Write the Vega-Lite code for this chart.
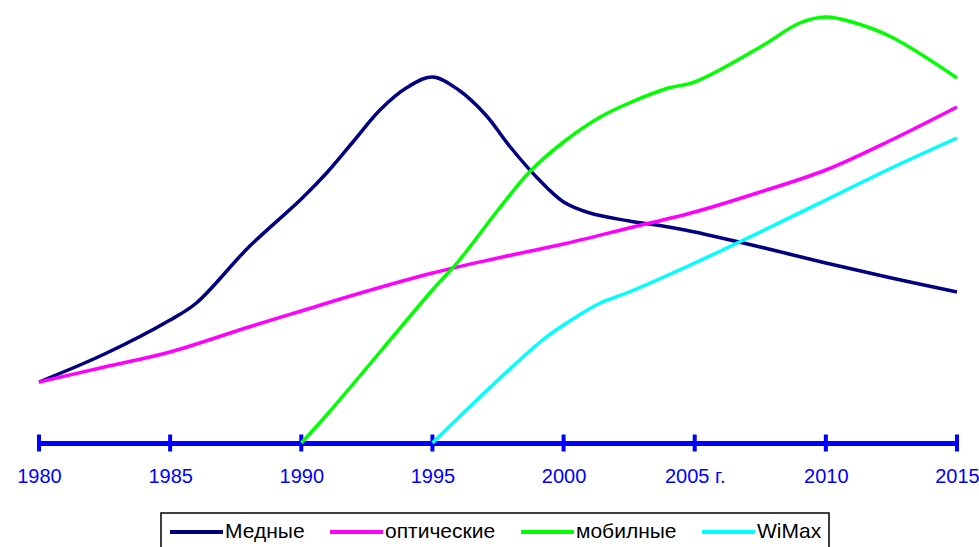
{
  "$schema": "https://vega.github.io/schema/vega-lite/v6.json",
  "width": 918,
  "height": 443,
  "autosize": {"type": "none"},
  "padding": {"left": 39, "top": 0, "right": 22, "bottom": 104},
  "background": "#ffffff",
  "config": {
    "view": {"stroke": null},
    "font": "Liberation Sans"
  },
  "datasets": {
    "series": [
      {"year": 1980, "value": 61, "series": "Медные"},
      {"year": 1982.5, "value": 89, "series": "Медные"},
      {"year": 1985, "value": 123, "series": "Медные"},
      {"year": 1986, "value": 140, "series": "Медные"},
      {"year": 1988, "value": 196, "series": "Медные"},
      {"year": 1990, "value": 244, "series": "Медные"},
      {"year": 1991, "value": 271, "series": "Медные"},
      {"year": 1992, "value": 302, "series": "Медные"},
      {"year": 1993, "value": 333, "series": "Медные"},
      {"year": 1994, "value": 355, "series": "Медные"},
      {"year": 1995, "value": 366, "series": "Медные"},
      {"year": 1996, "value": 353, "series": "Медные"},
      {"year": 1997, "value": 329, "series": "Медные"},
      {"year": 1998, "value": 295, "series": "Медные"},
      {"year": 1999, "value": 265, "series": "Медные"},
      {"year": 2000, "value": 241, "series": "Медные"},
      {"year": 2001, "value": 230, "series": "Медные"},
      {"year": 2002.5, "value": 222, "series": "Медные"},
      {"year": 2004, "value": 216, "series": "Медные"},
      {"year": 2005, "value": 211, "series": "Медные"},
      {"year": 2007.5, "value": 196, "series": "Медные"},
      {"year": 2010, "value": 180, "series": "Медные"},
      {"year": 2012.5, "value": 165, "series": "Медные"},
      {"year": 2015, "value": 151, "series": "Медные"},

      {"year": 1980, "value": 61, "series": "оптические"},
      {"year": 1982.5, "value": 76, "series": "оптические"},
      {"year": 1985, "value": 91, "series": "оптические"},
      {"year": 1988, "value": 116, "series": "оптические"},
      {"year": 1990, "value": 132, "series": "оптические"},
      {"year": 1992, "value": 148, "series": "оптические"},
      {"year": 1995, "value": 170, "series": "оптические"},
      {"year": 1997.5, "value": 185, "series": "оптические"},
      {"year": 2000, "value": 199, "series": "оптические"},
      {"year": 2002.5, "value": 215, "series": "оптические"},
      {"year": 2005, "value": 231, "series": "оптические"},
      {"year": 2007.5, "value": 251, "series": "оптические"},
      {"year": 2010, "value": 273, "series": "оптические"},
      {"year": 2012.5, "value": 303, "series": "оптические"},
      {"year": 2015, "value": 336, "series": "оптические"},

      {"year": 1990, "value": 0, "series": "мобилные"},
      {"year": 1991, "value": 29, "series": "мобилные"},
      {"year": 1995, "value": 153, "series": "мобилные"},
      {"year": 1996, "value": 182, "series": "мобилные"},
      {"year": 1997.5, "value": 233, "series": "мобилные"},
      {"year": 1998.7, "value": 271, "series": "мобилные"},
      {"year": 2000, "value": 301, "series": "мобилные"},
      {"year": 2001.4, "value": 326, "series": "мобилные"},
      {"year": 2002.5, "value": 340, "series": "мобилные"},
      {"year": 2004, "value": 355, "series": "мобилные"},
      {"year": 2005, "value": 361, "series": "мобилные"},
      {"year": 2007.5, "value": 396, "series": "мобилные"},
      {"year": 2009, "value": 420, "series": "мобилные"},
      {"year": 2010, "value": 426, "series": "мобилные"},
      {"year": 2011, "value": 421, "series": "мобилные"},
      {"year": 2012.5, "value": 406, "series": "мобилные"},
      {"year": 2015, "value": 365, "series": "мобилные"},

      {"year": 1995, "value": 0, "series": "WiMax"},
      {"year": 1997.5, "value": 63, "series": "WiMax"},
      {"year": 1999.2, "value": 103, "series": "WiMax"},
      {"year": 2000, "value": 118, "series": "WiMax"},
      {"year": 2001.4, "value": 140, "series": "WiMax"},
      {"year": 2002.5, "value": 151, "series": "WiMax"},
      {"year": 2005, "value": 180, "series": "WiMax"},
      {"year": 2007.5, "value": 211, "series": "WiMax"},
      {"year": 2010, "value": 243, "series": "WiMax"},
      {"year": 2012.5, "value": 275, "series": "WiMax"},
      {"year": 2015, "value": 305, "series": "WiMax"}
    ],
    "ticks": [
      {"year": 1980, "value": 0},
      {"year": 1985, "value": 0},
      {"year": 1990, "value": 0},
      {"year": 1995, "value": 0},
      {"year": 2000, "value": 0},
      {"year": 2005, "value": 0},
      {"year": 2010, "value": 0},
      {"year": 2015, "value": 0}
    ]
  },
  "layer": [
    {
      "data": {"name": "ticks"},
      "mark": {"type": "tick", "orient": "vertical", "color": "#0000ff", "size": 17, "thickness": 4, "opacity": 1},
      "encoding": {
        "x": {"field": "year", "type": "quantitative", "scale": {"domain": [1980, 2015], "nice": false, "zero": false},
          "axis": {
            "values": [1980, 1985, 1990, 1995, 2000, 2005, 2010, 2015],
            "title": null,
            "grid": false,
            "ticks": false,
            "tickSize": 0,
            "domainColor": "#0000ff",
            "domainWidth": 5,
            "labelColor": "#0000ff",
            "labelFont": "Liberation Sans",
            "labelFontSize": 20,
            "labelPadding": 23,
            "labelFlush": false,
            "labelOverlap": false,
            "labelExpr": "datum.value == 2005 ? '2005 г.' : format(datum.value, 'd')"
          }
        },
        "y": {"field": "value", "type": "quantitative", "scale": {"domain": [0, 443], "nice": false, "zero": false}, "axis": null}
      }
    },
    {
      "data": {"name": "series"},
      "mark": {"type": "line", "interpolate": "catmull-rom", "strokeWidth": 3.5},
      "encoding": {
        "x": {"field": "year", "type": "quantitative"},
        "y": {"field": "value", "type": "quantitative"},
        "color": {
          "field": "series",
          "type": "nominal",
          "sort": ["Медные", "оптические", "мобилные", "WiMax"],
          "scale": {"domain": ["Медные", "оптические", "мобилные", "WiMax"], "range": ["#000080", "#ff00ff", "#00ff00", "#00ffff"]},
          "legend": {
            "title": null,
            "orient": "none",
            "legendX": 122,
            "legendY": 513,
            "direction": "horizontal",
            "symbolType": "stroke",
            "symbolSize": 2809,
            "symbolStrokeWidth": 4,
            "clipHeight": 24,
            "labelFont": "Liberation Sans",
            "labelFontSize": 21,
            "labelColor": "#000000",
            "labelOffset": 0,
            "columnPadding": 23,
            "padding": 7,
            "strokeColor": "#000000",
            "fillColor": "#ffffff",
            "encode": {"legend": {"update": {"strokeWidth": {"value": 1.5}}}}
          }
        }
      }
    }
  ]
}
